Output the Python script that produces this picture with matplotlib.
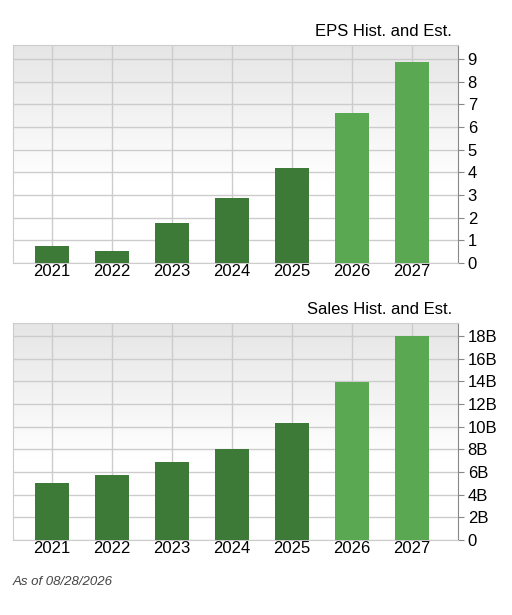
import matplotlib
matplotlib.use("Agg")
import matplotlib.pyplot as plt
import numpy as np

years = ["2021", "2022", "2023", "2024", "2025", "2026", "2027"]
eps = [0.75, 0.52, 1.77, 2.85, 4.2, 6.62, 8.87]
sales = [5.0, 5.7, 6.9, 8.0, 10.3, 13.9, 18.0]
estimated = [False, False, False, False, False, True, True]
eps_ticks = list(range(0, 10))
sales_ticks = list(range(0, 19, 2))

W, H = 512, 615
fig = plt.figure(figsize=(W/100, H/100), dpi=100)
plt.rcParams['font.family'] = ['Liberation Sans', 'DejaVu Sans']

def panel(top, bottom, vals, ticks, ymax, title, fmt):
    ax = fig.add_axes([13/W, 1-bottom/H, (458-13)/W, (bottom-top)/H])
    x = np.arange(len(vals))
    grad = np.linspace(0, 1, 256).reshape(-1, 1)
    g = np.clip(grad*1.6, 0, 1)
    col = 0.90 + 0.10*g
    img = np.dstack([col, col, col])
    ax.imshow(img, extent=[-0.65, 6.77, 0, ymax], aspect='auto', zorder=0, origin='upper')
    ax.set_xlim(-0.65, 6.77); ax.set_ylim(0, ymax)
    colors = ['#5aa852' if e else '#3d7a38' for e in estimated]
    ax.bar(x, vals, width=0.57, color=colors, zorder=3)
    ax.set_xticks(x)
    ax.set_xticklabels(years, fontsize=12)
    ax.set_yticks(ticks)
    ax.set_yticklabels([fmt(t) for t in ticks], fontsize=12)
    ax.yaxis.tick_right()
    ax.grid(True, color='#cccccc', linewidth=1, zorder=1)
    ax.set_axisbelow(True)
    ax.tick_params(axis='x', length=0, pad=1)
    ax.tick_params(axis='y', length=4, color='#888888', pad=3)
    for s in ax.spines.values():
        s.set_color('#cccccc')
    ax.spines['right'].set_color('#888888')
    fig.text(452/W, 1-(top-13)/H, title, ha='right', va='center', fontsize=12)

panel(45, 263, eps, eps_ticks, 9.62, "EPS Hist. and Est.", lambda t: str(t))
panel(323, 540, sales, sales_ticks, 19.15, "Sales Hist. and Est.", lambda t: "0" if t == 0 else f"{t}B")
fig.text(13/W, 1-582/H, "As of 08/28/2026", fontsize=9.5, style='italic', color='#444444', va='center')
fig.savefig("out.png", dpi=100)
